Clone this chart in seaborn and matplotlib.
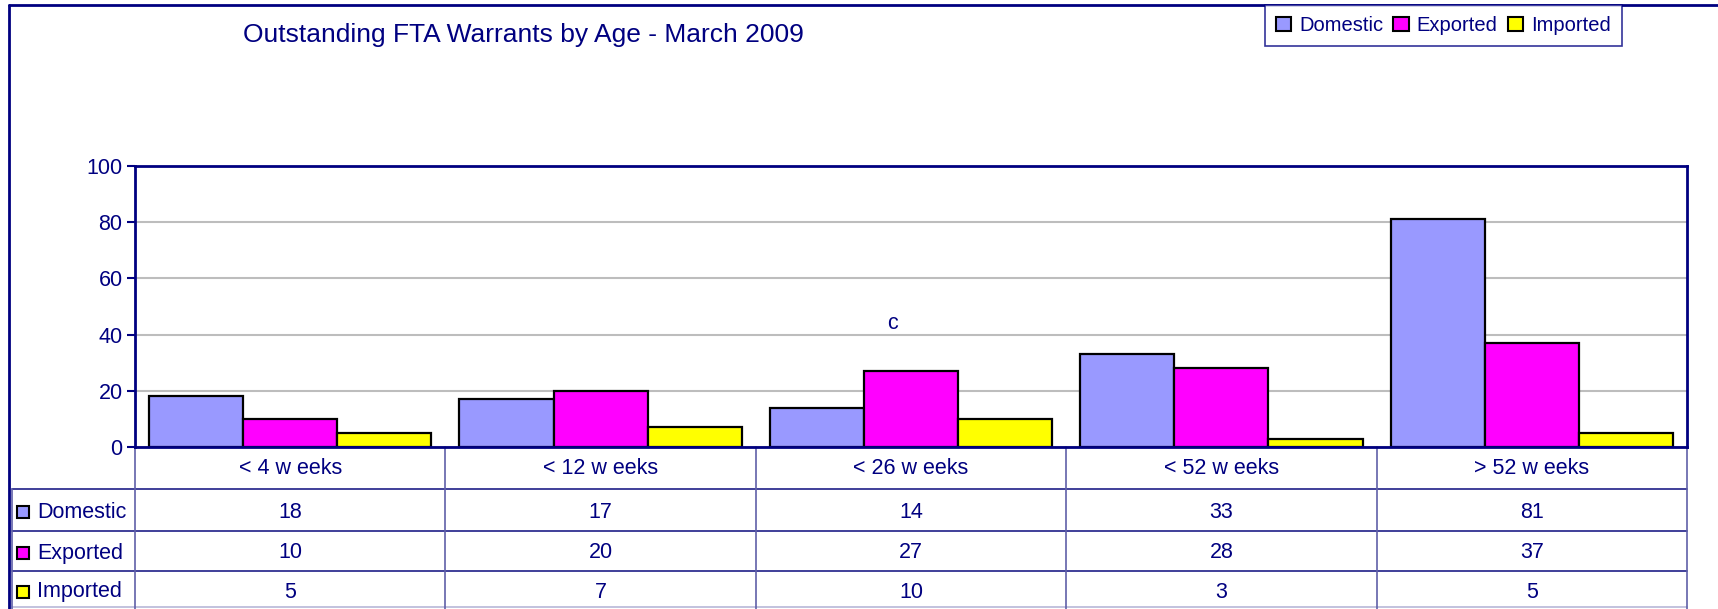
import matplotlib
matplotlib.use("Agg")
import matplotlib.pyplot as plt
from matplotlib.lines import Line2D
import seaborn as sns
import pandas as pd

categories = ["< 4 w eeks", "< 12 w eeks", "< 26 w eeks", "< 52 w eeks", "> 52 w eeks"]
series = ["Domestic", "Exported", "Imported"]
domestic = [18, 17, 14, 33, 81]
exported = [10, 20, 27, 28, 37]
imported = [5, 7, 10, 3, 5]
colors = ["#9999FF", "#FF00FF", "#FFFF00"]
title = "Outstanding FTA Warrants by Age - March 2009"
yticks = [0, 20, 40, 60, 80, 100]

values = {"Domestic": domestic, "Exported": exported, "Imported": imported}
rows = []
for s in series:
    for c, v in zip(categories, values[s]):
        rows.append({"category": c, "series": s, "value": v})
df = pd.DataFrame(rows)

sns.set_theme(style="white")
plt.rcParams["font.family"] = ["Liberation Sans", "DejaVu Sans"]
NAVY = "#000080"

W, H = 1718, 609
fig = plt.figure(figsize=(W / 100, H / 100), dpi=100)
ax_l, ax_r, ax_t, ax_b = 135, 1687, 166, 447
ax = fig.add_axes([ax_l / W, 1 - ax_b / H, (ax_r - ax_l) / W, (ax_b - ax_t) / H])

sns.barplot(data=df, x="category", y="value", hue="series", order=categories,
            hue_order=series, palette=colors, width=0.91, edgecolor="black",
            linewidth=1.6, ax=ax, saturation=1, legend=True)

ax.set_xlim(-0.5, len(categories) - 0.5)
ax.set_ylim(0, 100)
ax.set_yticks(yticks)
ax.set_xticks([])
ax.set_xlabel("")
ax.set_ylabel("")
ax.yaxis.grid(True, color="#BDBDBD", linewidth=1.5)
ax.set_axisbelow(True)
for sp in ax.spines.values():
    sp.set_visible(True)
    sp.set_color(NAVY)
    sp.set_linewidth(2)
ax.tick_params(axis="y", colors=NAVY, labelsize=15.5, length=6, width=1.5,
               direction="out", left=True, pad=3)
for lbl in ax.get_yticklabels():
    lbl.set_color(NAVY)

# legend
handles, labels = ax.get_legend_handles_labels()
ax.get_legend().remove()
leg = fig.legend(handles, labels, loc="upper left",
                 bbox_to_anchor=(1265 / W, 1 - 5 / H), bbox_transform=fig.transFigure,
                 ncol=3, frameon=True, fancybox=False, fontsize=14.5,
                 handlelength=0.75, handleheight=0.75, handletextpad=0.4,
                 columnspacing=0.5, borderpad=0.55, borderaxespad=0)
leg.get_frame().set_edgecolor(NAVY)
leg.get_frame().set_linewidth(1.2)
for t in leg.get_texts():
    t.set_color(NAVY)
for h in leg.legend_handles:
    h.set_edgecolor("black")
    h.set_linewidth(1.5)

# title
fig.text(243 / W, 1 - 35 / H, title, ha="left", va="center", fontsize=19, color=NAVY)

# stray "c" annotation
ax.text(1.94, 44, "c", ha="center", va="center", fontsize=15.5, color=NAVY)

# data table below the axes
ph = ax_b - ax_t
cw = (ax_r - ax_l) / len(categories)
def fy(py):
    return (ax_b - py) / ph
def fx(px):
    return -0.5 + (px - ax_l) / cw

tr = ax.get_xaxis_transform()
line_kw = dict(transform=tr, clip_on=False)
header_mid, row_lines = 469, [489, 531, 571, 607]
row_mids = [512, 553, 592]

for i, c in enumerate(categories):
    ax.text(i, fy(header_mid), c, ha="center", va="center", fontsize=15.5,
            color=NAVY, transform=tr, clip_on=False)
for r, s in enumerate(series):
    for i, v in enumerate(values[s]):
        ax.text(i, fy(row_mids[r]), str(v), ha="center", va="center",
                fontsize=15.5, color=NAVY, transform=tr, clip_on=False)
    ax.text(fx(37), fy(row_mids[r]), s, ha="left", va="center", fontsize=15.5,
            color=NAVY, transform=tr, clip_on=False)
    ax.plot([fx(23)], [fy(row_mids[r])], marker="s", markersize=9,
            markerfacecolor=colors[r], markeredgecolor="black",
            markeredgewidth=1.5, **line_kw)

for k, py in enumerate(row_lines):
    col = "#1F1F88" if k < 3 else "#B8B8D8"
    ax.plot([fx(12), len(categories) - 0.5], [fy(py), fy(py)], color=col,
            linewidth=1.2, **line_kw)
for i in range(len(categories) + 1):
    ax.plot([i - 0.5, i - 0.5], [0, fy(609)], color="#6060A8", linewidth=1.2,
            **line_kw)
ax.plot([fx(12), fx(12)], [fy(row_lines[0]), fy(609)], color="#6060A8",
        linewidth=1.2, **line_kw)

# outer chart frame (left and top)
fig.add_artist(Line2D([8.5 / W, 8.5 / W], [0, 1 - 5 / H], color=NAVY,
                      linewidth=2, transform=fig.transFigure))
fig.add_artist(Line2D([8.5 / W, 1], [1 - 5 / H, 1 - 5 / H], color=NAVY,
                      linewidth=2, transform=fig.transFigure))

fig.savefig("out.png", dpi=100)
